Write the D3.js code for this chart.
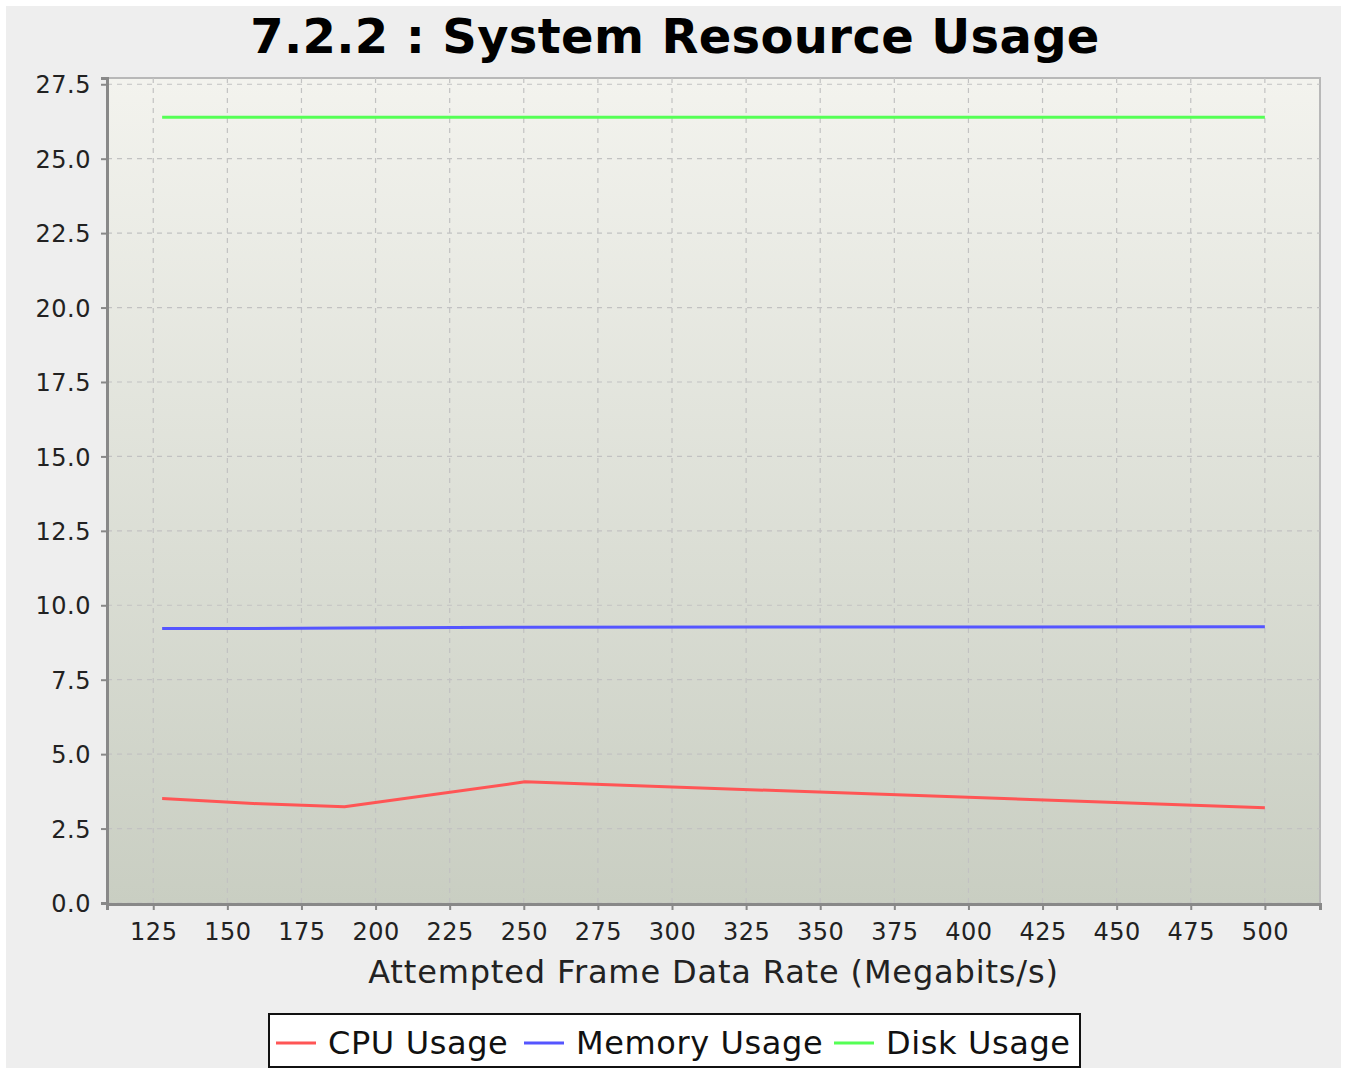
<!DOCTYPE html>
<html>
<head>
<meta charset="utf-8">
<script src="https://cdn.jsdelivr.net/npm/d3@7"></script>
<style>
  body { margin: 0; background: #ffffff; }
  text { font-family: "DejaVu Sans", sans-serif; }
</style>
</head>
<body>
<svg id="chart" width="1345" height="1070"></svg>
<script>
// data
var rates = [128, 158.7, 189.5, 250.4, 500];
var cpuUsage = [3.51, 3.34, 3.23, 4.07, 3.2];
var memoryUsage = [9.22, 9.22, 9.24, 9.26, 9.28];
var diskUsage = [26.39, 26.39, 26.39, 26.39, 26.39];
var xTicks = [125, 150, 175, 200, 225, 250, 275, 300, 325, 350, 375, 400, 425, 450, 475, 500];
var yTicks = [0, 2.5, 5, 7.5, 10, 12.5, 15, 17.5, 20, 22.5, 25, 27.5];
var seriesNames = ["CPU Usage", "Memory Usage", "Disk Usage"];
var seriesColors = ["#ff5555", "#5555ff", "#55ff55"];

const main = function(){
  var svg = d3.select('#chart');

  var left = 107, right = 1320, top = 78, bottom = 904;

  svg.append("rect")
    .attr("x", 6).attr("y", 6)
    .attr("width", 1335).attr("height", 1062)
    .attr("fill", "#eeeeee");

  var x = d3.scaleLinear().domain([109.4, 518.6]).range([left, right]);
  var y = d3.scaleLinear().domain([0, 27.71]).range([bottom - 1, top]);

  // plot background gradient
  var defs = svg.append("defs");
  var grad = defs.append("linearGradient")
    .attr("id", "bg").attr("x1", 0).attr("y1", 0).attr("x2", 0).attr("y2", 1);
  grad.append("stop").attr("offset", "0%").attr("stop-color", "#f3f3ee");
  grad.append("stop").attr("offset", "100%").attr("stop-color", "#c9cec2");

  svg.append("rect")
    .attr("x", left).attr("y", top)
    .attr("width", right - left).attr("height", bottom - top)
    .attr("fill", "url(#bg)")
    .attr("stroke", "#b8b8b8")
    .attr("stroke-width", 2);

  // gridlines
  var grid = svg.append("g");
  grid.selectAll(".gx").data(xTicks).enter().append("line")
    .attr("x1", d => x(d)).attr("x2", d => x(d))
    .attr("y1", top).attr("y2", bottom)
    .attr("stroke", "#c2c2c2").attr("stroke-width", 1.2)
    .attr("stroke-dasharray", "5,5");
  grid.selectAll(".gy").data(yTicks).enter().append("line")
    .attr("x1", left).attr("x2", right)
    .attr("y1", d => y(d)).attr("y2", d => y(d))
    .attr("stroke", "#c2c2c2").attr("stroke-width", 1.2)
    .attr("stroke-dasharray", "5,5");

  // axes
  var xAxis = svg.append("g")
    .attr("transform", "translate(0," + bottom + ")")
    .call(d3.axisBottom(x).tickValues(xTicks).tickFormat(d3.format("d")).tickSize(6).tickPadding(13));
  var yAxis = svg.append("g")
    .attr("transform", "translate(" + left + ",0)")
    .call(d3.axisLeft(y).tickValues(yTicks).tickFormat(d3.format(".1f")).tickSize(6).tickPadding(10));

  [xAxis, yAxis].forEach(function(a){
    a.select(".domain").attr("stroke", "#888888").attr("stroke-width", 3);
    a.selectAll(".tick line").attr("stroke", "#888888").attr("stroke-width", 2);
    a.selectAll(".tick text")
      .attr("fill", "#222222")
      .style("font-size", "24px")
      .style("letter-spacing", "0.5px")
      .style("font-family", "DejaVu Sans, sans-serif");
  });
  yAxis.selectAll(".tick text").attr("dy", "0.36em");

  // lines
  var allSeries = [cpuUsage, memoryUsage, diskUsage];
  var line = d3.line()
    .x((d, i) => x(rates[i]))
    .y(d => y(d));

  allSeries.forEach(function(vals, k){
    svg.append("path")
      .datum(vals)
      .attr("fill", "none")
      .attr("stroke", seriesColors[k])
      .attr("stroke-width", 3)
      .attr("stroke-linejoin", "round")
      .attr("d", line);
  });

  // title
  svg.append("text")
    .attr("x", 675).attr("y", 53)
    .attr("text-anchor", "middle")
    .style("font-size", "48px")
    .style("font-weight", "bold")
    .style("letter-spacing", "0.35px")
    .attr("fill", "#000000")
    .text("7.2.2 : System Resource Usage");

  // axis label
  svg.append("text")
    .attr("x", (left + right) / 2).attr("y", 983)
    .attr("text-anchor", "middle")
    .style("font-size", "32px")
    .style("letter-spacing", "0.85px")
    .attr("fill", "#222222")
    .text("Attempted Frame Data Rate (Megabits/s)");

  // legend
  var legend = svg.append("g");
  legend.append("rect")
    .attr("x", 269).attr("y", 1014)
    .attr("width", 811).attr("height", 53)
    .attr("fill", "#ffffff")
    .attr("stroke", "#111111")
    .attr("stroke-width", 2);

  var entryX = [276, 524, 834];
  seriesNames.forEach(function(name, k){
    legend.append("line")
      .attr("x1", entryX[k]).attr("x2", entryX[k] + 40)
      .attr("y1", 1043).attr("y2", 1043)
      .attr("stroke", seriesColors[k]).attr("stroke-width", 3);
    legend.append("text")
      .attr("x", entryX[k] + 52).attr("y", 1054)
      .style("font-size", "32px")
      .style("letter-spacing", "0.6px")
      .attr("fill", "#111111")
      .text(name);
  });
};

main();
</script>
</body>
</html>
